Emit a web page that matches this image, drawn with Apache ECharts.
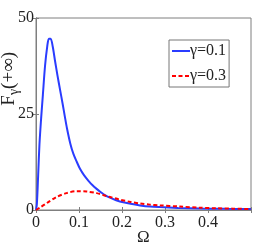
<!DOCTYPE html>
<html><head><meta charset="utf-8">
<script src="https://cdn.jsdelivr.net/npm/echarts@6/dist/echarts.min.js"></script>
<style>html,body{margin:0;padding:0;background:#fff}#c{width:277px;height:247px}</style>
</head><body><div id="c"></div>
<script>
const xTicks = [0, 0.1, 0.2, 0.3, 0.4];
const yTicks = [0, 25, 50];
const seriesNames = ['γ=0.1', 'γ=0.3'];
const xAxisTitle = 'Ω';
const omegaBlue = [0,0.002,0.005,0.008,0.012,0.016,0.021,0.026,0.030,0.034,0.039,0.044,0.05,0.056,0.062,0.067,0.072,0.08,0.087,0.095,0.102,0.112,0.122,0.131,0.141,0.15,0.16,0.172,0.185,0.195,0.22,0.242,0.265,0.288,0.33,0.38,0.44,0.5];
const fBlue = [0,1.5,9,17,24,30,37.5,42.5,44.6,44.6,42.5,39,35,31.3,27.6,24.4,21.3,17.2,14.6,12.5,10.8,9,7.6,6.5,5.5,4.7,3.9,3.2,2.6,2.2,1.6,1.2,0.9,0.75,0.55,0.4,0.3,0.25];
const omegaRed = [0,0.01,0.025,0.048,0.071,0.095,0.118,0.141,0.156,0.172,0.195,0.22,0.242,0.265,0.288,0.335,0.381,0.42,0.458,0.5];
const fRed = [0,0.7,1.8,3.4,4.4,4.9,4.8,4.4,3.9,3.4,2.7,2.1,1.7,1.4,1.2,0.9,0.6,0.45,0.35,0.25];

const font = 'Liberation Serif';
const axisColor = '#7f7f7f';
const chart = echarts.init(document.getElementById('c'), null, {renderer: 'canvas'});
const xFmt = v => xTicks.some(t => Math.abs(t - v) < 1e-9) ? '{s|' + (v === 0 ? '0' : String(+v.toFixed(1))) + '}' : '';
const yFmt = v => yTicks.includes(v) ? '{s|' + v + '}' : '';
const rich = (size) => ({s: {fontFamily: font, fontSize: size, color: '#222'}});
chart.setOption({
  animation: false,
  textStyle: {fontFamily: font},
  grid: {left: 36, right: 26, top: 18, bottom: 37, show: true, borderColor: axisColor, borderWidth: 1,
         containLabel: false, outerBoundsMode: 'none'},
  xAxis: [{
    type: 'value', min: 0, max: 0.5, interval: 0.1, position: 'bottom',
    axisLine: {show: true, lineStyle: {color: axisColor}},
    axisTick: {show: true, inside: true, length: 3, lineStyle: {color: axisColor}},
    axisLabel: {formatter: xFmt, margin: 5, rich: rich(16)},
    splitLine: {show: false}
  }, {
    type: 'value', min: 0, max: 0.5, interval: 0.1, position: 'top',
    axisLine: {show: true, lineStyle: {color: axisColor}},
    axisTick: {show: true, inside: true, length: 3, lineStyle: {color: axisColor}},
    axisLabel: {show: false}, splitLine: {show: false}
  }],
  yAxis: [{
    type: 'value', min: 0, max: 50, interval: 25, position: 'left',
    axisLine: {show: true, lineStyle: {color: axisColor}},
    axisTick: {show: true, inside: true, length: 3, lineStyle: {color: axisColor}},
    axisLabel: {formatter: yFmt, margin: 2, rich: rich(16)},
    splitLine: {show: false}
  }, {
    type: 'value', min: 0, max: 50, interval: 25, position: 'right',
    axisLine: {show: true, lineStyle: {color: axisColor}},
    axisTick: {show: true, inside: true, length: 3, lineStyle: {color: axisColor}},
    axisLabel: {show: false}, splitLine: {show: false}
  }],
  legend: {
    orient: 'vertical', left: 169, top: 40, padding: [3, 3, 3, 2],
    borderColor: '#777', borderWidth: 1, backgroundColor: '#fff',
    itemWidth: 18, itemHeight: 14, itemGap: 9,
    itemStyle: {opacity: 0},
    formatter: n => '{s|' + n + '}',
    textStyle: {padding: [0, 0, 0, -5], rich: rich(16)},
    data: seriesNames
  },
  graphic: [{
    type: 'text', left: 0, top: 52, rotation: Math.PI / 2,
    style: {
      text: '{a|F}{b|γ}{a|(+∞)}',
      rich: {
        a: {fontFamily: font, fontSize: 19, fill: '#222'},
        b: {fontFamily: font, fontSize: 14, fill: '#222', padding: [9, 0, 0, 0]}
      }
    }
  }, {
    type: 'text', left: 137, top: 229,
    style: {text: xAxisTitle, fontFamily: font, fontSize: 17, fill: '#222'}
  }],
  series: [{
    name: seriesNames[0], type: 'line', smooth: 0.3, symbol: 'none',
    data: omegaBlue.map((x, i) => [x, fBlue[i]]),
    lineStyle: {color: '#2a3cff', width: 2}, itemStyle: {color: '#2a3cff'}, z: 3
  }, {
    name: seriesNames[1], type: 'line', smooth: 0.3, symbol: 'none',
    data: omegaRed.map((x, i) => [x, fRed[i]]),
    lineStyle: {color: '#ff0000', width: 2, type: [4, 2.5]}, itemStyle: {color: '#ff0000'}, z: 4
  }]
});
</script></body></html>
